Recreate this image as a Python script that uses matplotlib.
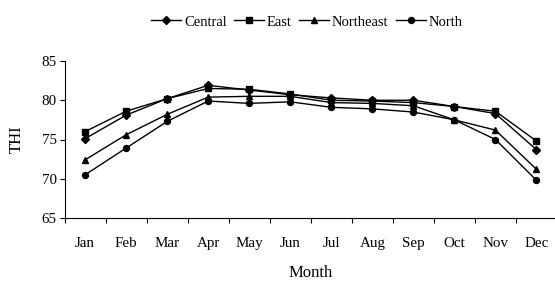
import matplotlib.pyplot as plt
import numpy as np

plt.rcParams['font.family'] = ['Liberation Serif', 'DejaVu Serif']
plt.rcParams['font.size'] = 10.8

months = ['Jan', 'Feb', 'Mar', 'Apr', 'May', 'Jun',
          'Jul', 'Aug', 'Sep', 'Oct', 'Nov', 'Dec']
central = [75.1, 78.1, 80.2, 81.9, 81.3, 80.7, 80.3, 80.0, 80.0, 79.2, 78.3, 73.7]
east = [76.0, 78.6, 80.2, 81.5, 81.4, 80.8, 80.0, 79.9, 79.7, 79.2, 78.6, 74.8]
northeast = [72.4, 75.6, 78.2, 80.4, 80.5, 80.5, 79.7, 79.6, 79.3, 77.5, 76.2, 71.2]
north = [70.5, 73.9, 77.3, 79.9, 79.6, 79.8, 79.1, 78.9, 78.5, 77.5, 75.0, 69.8]

fig = plt.figure(figsize=(5.55, 2.82), dpi=100)
ax = fig.add_axes([64.5 / 555, 1 - 218 / 282, 492.5 / 555, 157 / 282])

x = np.arange(len(months))
series = [('Central', central, 'D', 4.0),
          ('East', east, 's', 4.2),
          ('Northeast', northeast, '^', 4.8),
          ('North', north, 'o', 4.3)]
for name, vals, m, ms in series:
    ax.plot(x, vals, color='black', lw=1.0, marker=m, ms=ms,
            markerfacecolor='black', markeredgecolor='black', label=name)

ax.set_xlim(-0.5, 11.5)
ax.set_ylim(65, 85)
ax.set_yticks([65, 70, 75, 80, 85])
# ticks sit between the months, labels in the middle
ax.set_xticks(np.arange(-0.5, 11.5, 1.0))
ax.set_xticklabels([])
ax.set_xticks(x, minor=True)
ax.set_xticklabels(months, minor=True)
ax.tick_params(axis='x', which='minor', length=0, pad=13.5)
ax.tick_params(axis='x', which='major', direction='out', length=3.5, width=0.8)
ax.tick_params(axis='y', direction='out', length=3.5, width=0.8, pad=2)

ax.spines['top'].set_visible(False)
ax.spines['right'].set_visible(False)
ax.spines['left'].set_linewidth(0.8)
ax.spines['bottom'].set_linewidth(0.8)

ax.set_xlabel('Month', fontsize=12, labelpad=11)
ax.set_ylabel('THI', fontsize=12, labelpad=12)

ax.legend(loc='center', bbox_to_anchor=(307 / 555, 1 - 22 / 282),
          bbox_transform=fig.transFigure, ncol=4, frameon=False,
          fontsize=10.5, handlelength=2.05, handletextpad=0.2,
          columnspacing=0.5, borderpad=0)

fig.savefig('out.png', dpi=100)
